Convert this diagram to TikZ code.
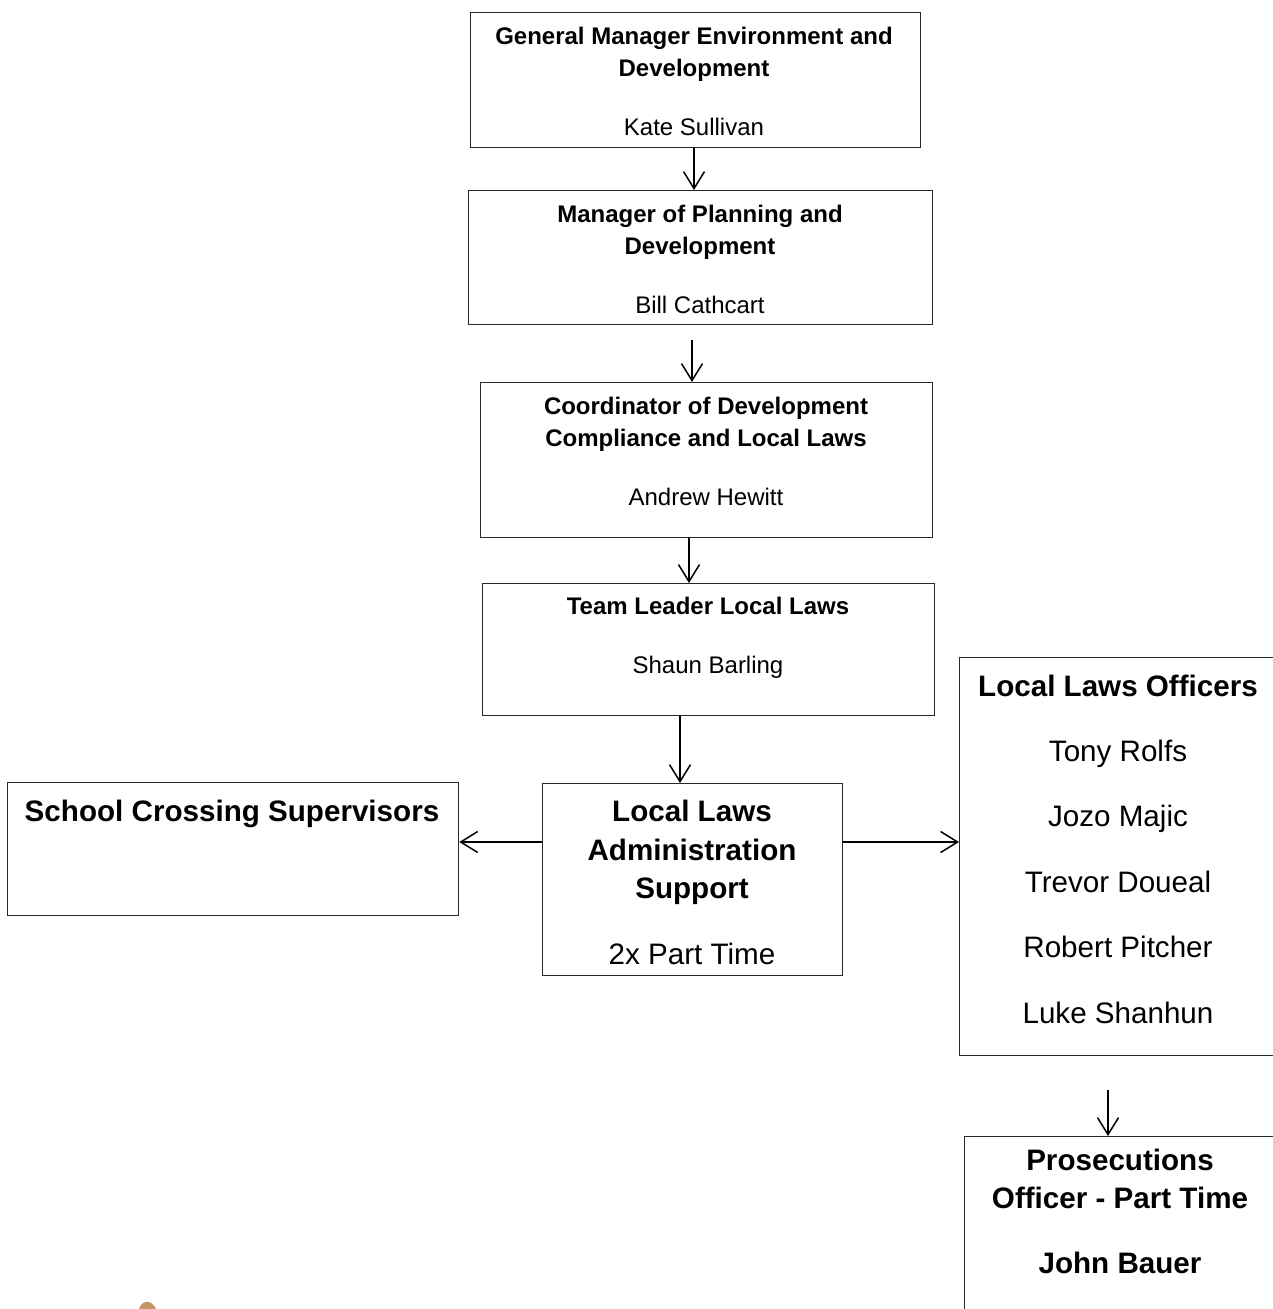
\documentclass[tikz,border=0pt]{standalone}
\usepackage{fontspec}
\setmainfont{Liberation Sans}
\usetikzlibrary{arrows.meta}
\definecolor{boxline}{RGB}{40,40,40}
\definecolor{tan}{RGB}{196,150,100}
\tikzset{
  box/.style={draw=boxline, line width=1.3pt, rectangle, inner sep=0pt, anchor=north west},
  st/.style={inner sep=0pt, anchor=base, font=\fontsize{24}{28}\selectfont},
  lt/.style={inner sep=0pt, anchor=base, font=\fontsize{29.6}{34}\selectfont},
  arr/.style={line width=1.5pt, -{Straight Barb[length=17pt,width=21pt,line width=1.5pt]}}
}
\begin{document}
\begin{tikzpicture}[x=1pt,y=-1pt]
\useasboundingbox (0,0) rectangle (1273,1309);
\clip (0,0) rectangle (1273,1309);
% boxes
\node[box, minimum width=450pt, minimum height=135pt] (b1) at (470,12) {};
\node[box, minimum width=464pt, minimum height=134pt] (b2) at (468,190) {};
\node[box, minimum width=452pt, minimum height=155pt] (b3) at (480,382) {};
\node[box, minimum width=452pt, minimum height=132pt] (b4) at (482,583) {};
\node[box, minimum width=300pt, minimum height=192pt] (b5) at (542,783) {};
\node[box, minimum width=451pt, minimum height=133pt] (b6) at (7,782) {};
\node[box, minimum width=320pt, minimum height=398pt] (b7) at (959,657) {};
\node[box, minimum width=314pt, minimum height=200pt] (b8) at (964,1136) {};
% texts
\node[st] (t1a) at (694,44) {\bfseries General Manager Environment and};
\node[st] (t1b) at (694,76) {\bfseries Development};
\node[st] (t1c) at (694,135) {Kate Sullivan};
\node[st] (t2a) at (700,222) {\bfseries Manager of Planning and};
\node[st] (t2b) at (700,254) {\bfseries Development};
\node[st] (t2c) at (700,313) {Bill Cathcart};
\node[st] (t3a) at (706,414) {\bfseries Coordinator of Development};
\node[st] (t3b) at (706,446) {\bfseries Compliance and Local Laws};
\node[st] (t3c) at (706,505) {Andrew Hewitt};
\node[st] (t4a) at (708,614) {\bfseries Team Leader Local Laws};
\node[st] (t4b) at (708,673) {Shaun Barling};
\node[lt] (t5a) at (692,821) {\bfseries Local Laws};
\node[lt] (t5b) at (692,860) {\bfseries Administration};
\node[lt] (t5c) at (692,898) {\bfseries Support};
\node[lt] (t5d) at (692,964) {2x Part Time};
\node[lt] (t6a) at (232,821) {\bfseries School Crossing Supervisors};
\node[lt] (t7a) at (1118,696) {\bfseries Local Laws Officers};
\node[lt] (t7b) at (1118,761) {Tony Rolfs};
\node[lt] (t7c) at (1118,826) {Jozo Majic};
\node[lt] (t7d) at (1118,892) {Trevor Doueal};
\node[lt] (t7e) at (1118,957) {Robert Pitcher};
\node[lt] (t7f) at (1118,1023) {Luke Shanhun};
\node[lt] (t8a) at (1120,1170) {\bfseries Prosecutions};
\node[lt] (t8b) at (1120,1208) {\bfseries Officer - Part Time};
\node[lt] (t8c) at (1120,1273) {\bfseries John Bauer};
% connector free ends
\coordinate (a2s) at (692,340);
\coordinate (a7s) at (1108,1090);
% connectors
\draw[arr] (b1.south -| 694,0) -- (b2.north -| 694,0);
\draw[arr] (a2s) -- (b3.north -| a2s);
\draw[arr] (b3.south -| 689,0) -- (b4.north -| 689,0);
\draw[arr] (b4.south -| 680,0) -- (b5.north -| 680,0);
\draw[arr] (b5.west |- 0,842) -- (b6.east |- 0,842);
\draw[arr] (b5.east |- 0,842) -- (b7.west |- 0,842);
\draw[arr] (a7s) -- (b8.north -| a7s);
% image fragment at bottom left
\fill[tan] (139,1309) .. controls (141,1303) and (145,1301) .. (149,1302)
  .. controls (152,1303) and (155,1306) .. (156,1309) -- cycle;
\end{tikzpicture}
\end{document}
